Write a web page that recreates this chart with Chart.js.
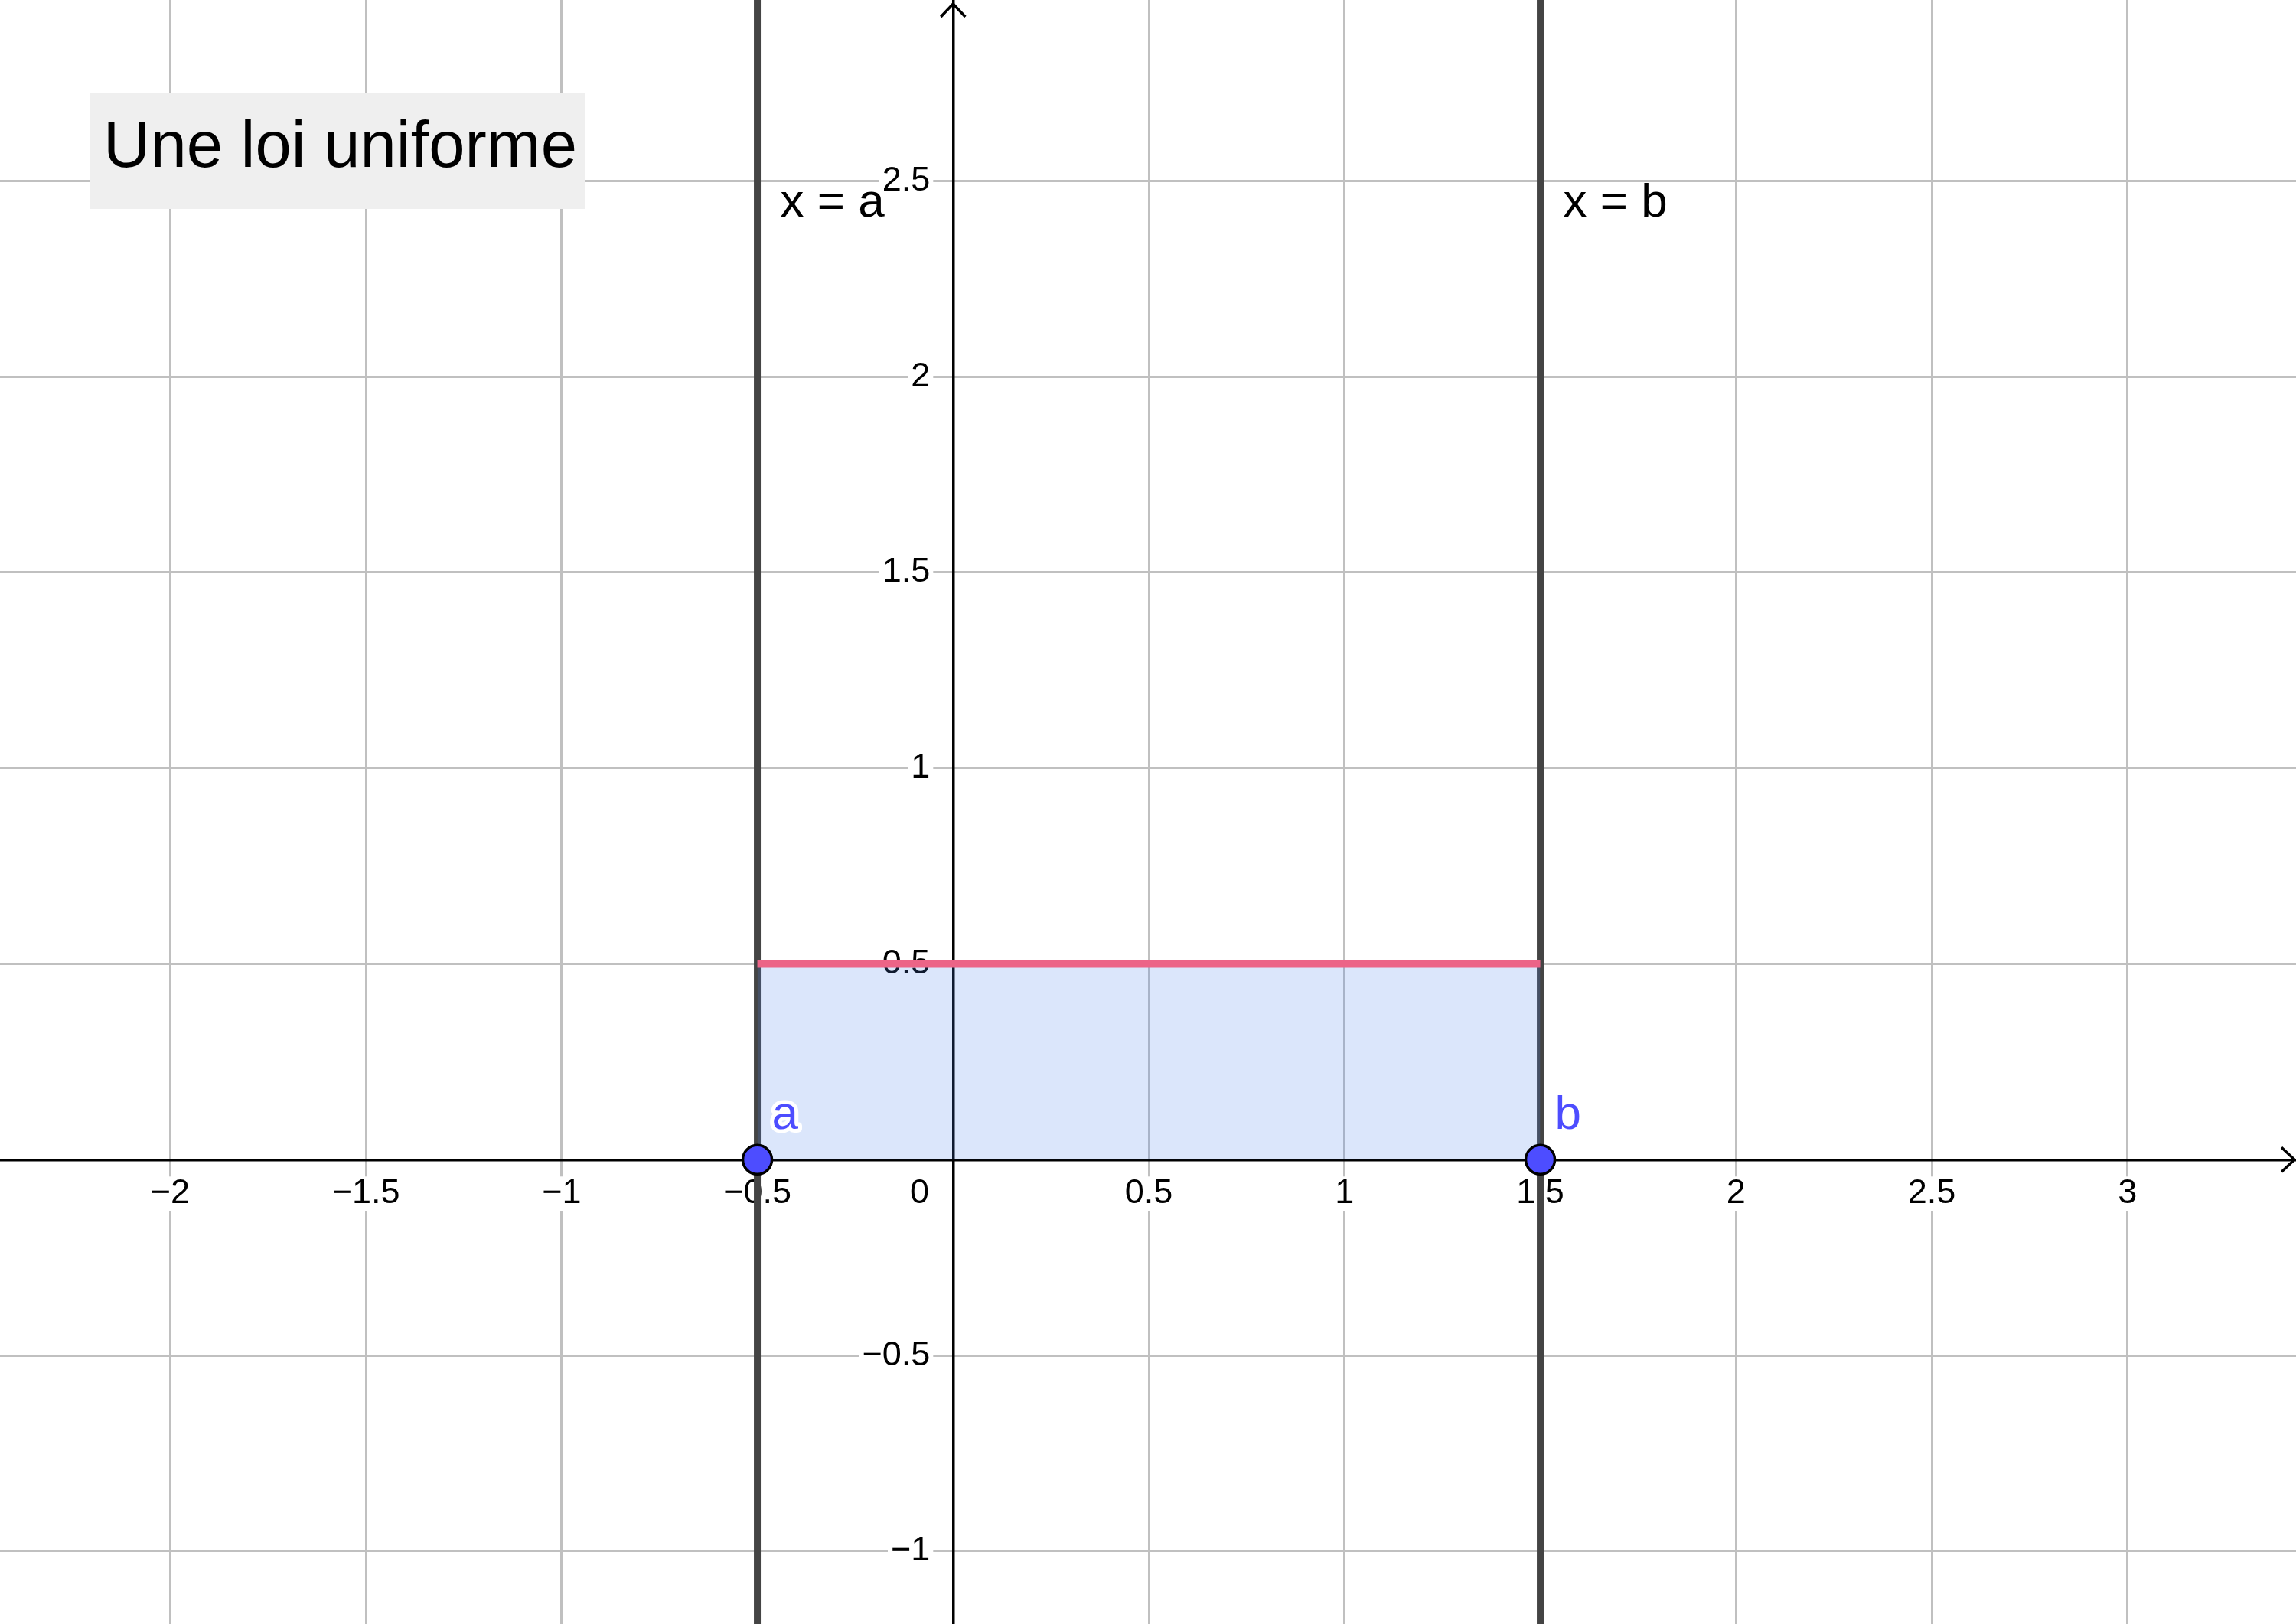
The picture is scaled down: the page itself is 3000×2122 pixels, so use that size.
<!DOCTYPE html>
<html>
<head>
<meta charset="utf-8">
<style>
  html, body { margin: 0; padding: 0; background: #ffffff; }
  #wrap { width: 3000px; height: 2122px; }
</style>
<script src="https://cdn.jsdelivr.net/npm/chart.js@4.4.1/dist/chart.umd.min.js"></script>
</head>
<body>
<div id="wrap"><canvas id="c" width="3000" height="2122"></canvas></div>
<script>
// ---------- data ----------
const titleText = 'Une loi uniforme';
const paramNames = ['a', 'b'];
const paramValues = [-0.5, 1.5];
const densityValue = 0.5;            // 1 / (b - a)
const lineLabels = ['x = a', 'x = b'];
const xRange = [-2.4346, 3.4305];
const yRange = [-1.1859, 2.9619];
const xTickValues = [-2, -1.5, -1, -0.5, 0, 0.5, 1, 1.5, 2, 2.5, 3];
const xTickLabels = ['\u22122', '\u22121.5', '\u22121', '\u22120.5', '0', '0.5', '1', '1.5', '2', '2.5', '3'];
const yTickValues = [-1, -0.5, 0, 0.5, 1, 1.5, 2, 2.5];
const yTickLabels = ['\u22121', '\u22120.5', '', '0.5', '1', '1.5', '2', '2.5'];

// ---------- styles ----------
const FONT = '"Liberation Sans", Arial, sans-serif';
const GRID = '#c0c0c0';
const AXIS = '#000000';
const POINT_BLUE = '#4d4dff';
const VLINE = '#444444';
const DENSITY_RED = '#ec6487';
const FILL_BLUE = 'rgba(77,128,235,0.2)';
const Y_LABEL_GAP = '\u2002\u2006';   // spacing between y labels and the y axis

const a = paramValues[0], b = paramValues[1];

const noScalePadding = s => { s.paddingLeft = 0; s.paddingRight = 0; s.paddingTop = 0; s.paddingBottom = 0; };

const decorPlugin = {
  id: 'decor',
  beforeDatasetsDraw(chart) {
    const { ctx, chartArea, scales } = chart;
    const x0 = scales.x.getPixelForValue(0);
    const y0 = scales.y.getPixelForValue(0);
    ctx.save();
    ctx.strokeStyle = AXIS;
    ctx.lineWidth = 3.5;
    ctx.lineCap = 'butt';
    const tx = chartArea.right - 2;
    ctx.beginPath();
    ctx.moveTo(tx - 17, y0 - 16); ctx.lineTo(tx, y0); ctx.lineTo(tx - 17, y0 + 16);
    ctx.stroke();
    const ty = chartArea.top + 5;
    ctx.beginPath();
    ctx.moveTo(x0 - 16, ty + 17); ctx.lineTo(x0, ty); ctx.lineTo(x0 + 16, ty + 17);
    ctx.stroke();
    ctx.restore();
  },
  afterDatasetsDraw(chart) {
    const { ctx, chartArea, scales } = chart;
    const y0 = scales.y.getPixelForValue(0);
    ctx.save();
    ctx.font = '62px ' + FONT;
    ctx.textAlign = 'left';
    ctx.textBaseline = 'alphabetic';
    ctx.lineJoin = 'round';
    paramNames.forEach((name, i) => {
      const px = scales.x.getPixelForValue(paramValues[i]);
      ctx.lineWidth = 10;
      ctx.strokeStyle = '#ffffff';
      ctx.strokeText(name, px + 19, y0 - 40);
      ctx.fillStyle = POINT_BLUE;
      ctx.fillText(name, px + 19, y0 - 40);
    });
    ctx.fillStyle = '#000000';
    lineLabels.forEach((t, i) => {
      const px = scales.x.getPixelForValue(paramValues[i]);
      ctx.fillText(t, px + 30, chartArea.top + 283);
    });
    ctx.fillStyle = '#efefef';
    ctx.fillRect(chartArea.left + 117, chartArea.top + 121, 648, 152);
    ctx.fillStyle = '#000000';
    ctx.font = '85px ' + FONT;
    ctx.fillText(titleText, chartArea.left + 135, chartArea.top + 218);
    ctx.restore();
  }
};

const chart = new Chart(document.getElementById('c'), {
  type: 'line',
  data: {
    datasets: [
      {
        label: 'points',
        type: 'scatter',
        data: paramValues.map(v => ({ x: v, y: 0 })),
        pointRadius: 19,
        pointBorderWidth: 3.5,
        pointBackgroundColor: POINT_BLUE,
        pointBorderColor: '#000000',
        showLine: false
      },
      {
        label: 'densité',
        data: [{ x: a, y: densityValue }, { x: b, y: densityValue }],
        borderColor: DENSITY_RED,
        borderWidth: 10,
        backgroundColor: FILL_BLUE,
        fill: 'origin',
        pointRadius: 0,
        tension: 0
      },
      {
        label: 'x = a',
        data: [{ x: a, y: yRange[0] }, { x: a, y: yRange[1] }],
        borderColor: VLINE,
        borderWidth: 9,
        pointRadius: 0,
        fill: false
      },
      {
        label: 'x = b',
        data: [{ x: b, y: yRange[0] }, { x: b, y: yRange[1] }],
        borderColor: VLINE,
        borderWidth: 9,
        pointRadius: 0,
        fill: false
      }
    ]
  },
  options: {
    responsive: false,
    animation: false,
    devicePixelRatio: 1,
    layout: { padding: 0, autoPadding: false },
    plugins: { legend: { display: false }, tooltip: { enabled: false }, title: { display: false } },
    scales: {
      x: {
        type: 'linear',
        min: xRange[0],
        max: xRange[1],
        position: { y: 0 },
        afterBuildTicks: s => { s.ticks = xTickValues.map(v => ({ value: v })); },
        afterFit: noScalePadding,
        grid: { color: GRID, lineWidth: 3, drawTicks: false },
        border: { display: true, color: AXIS, width: 3.5 },
        ticks: {
          autoSkip: false,
          maxRotation: 0,
          padding: 22,
          color: '#000000',
          font: { family: FONT, size: 45, lineHeight: 1.0 },
          showLabelBackdrop: true,
          backdropColor: ctx => (ctx.tick && ctx.tick.value === 0) ? 'rgba(0,0,0,0)' : '#ffffff',
          backdropPadding: { top: 0, bottom: 0, left: 4, right: 4 },
          callback: v => {
            const l = xTickLabels[xTickValues.indexOf(v)];
            return v === 0 ? l + '       ' : l;
          }
        }
      },
      y: {
        type: 'linear',
        min: yRange[0],
        max: yRange[1],
        position: { x: 0 },
        afterBuildTicks: s => { s.ticks = yTickValues.map(v => ({ value: v })); },
        afterFit: noScalePadding,
        grid: { color: GRID, lineWidth: 3, drawTicks: false },
        border: { display: true, color: AXIS, width: 3.5 },
        ticks: {
          autoSkip: false,
          padding: 0,
          color: '#000000',
          font: { family: FONT, size: 45, lineHeight: 1.0 },
          showLabelBackdrop: true,
          backdropColor: ctx => (ctx.tick && ctx.tick.value === 0) ? 'rgba(0,0,0,0)' : '#ffffff',
          backdropPadding: { top: 0, bottom: 0, left: 4, right: -26 },
          callback: v => {
            const l = yTickLabels[yTickValues.indexOf(v)];
            return l === '' ? '' : l + Y_LABEL_GAP;
          }
        }
      }
    }
  },
  plugins: [decorPlugin]
});
</script>
</body>
</html>
